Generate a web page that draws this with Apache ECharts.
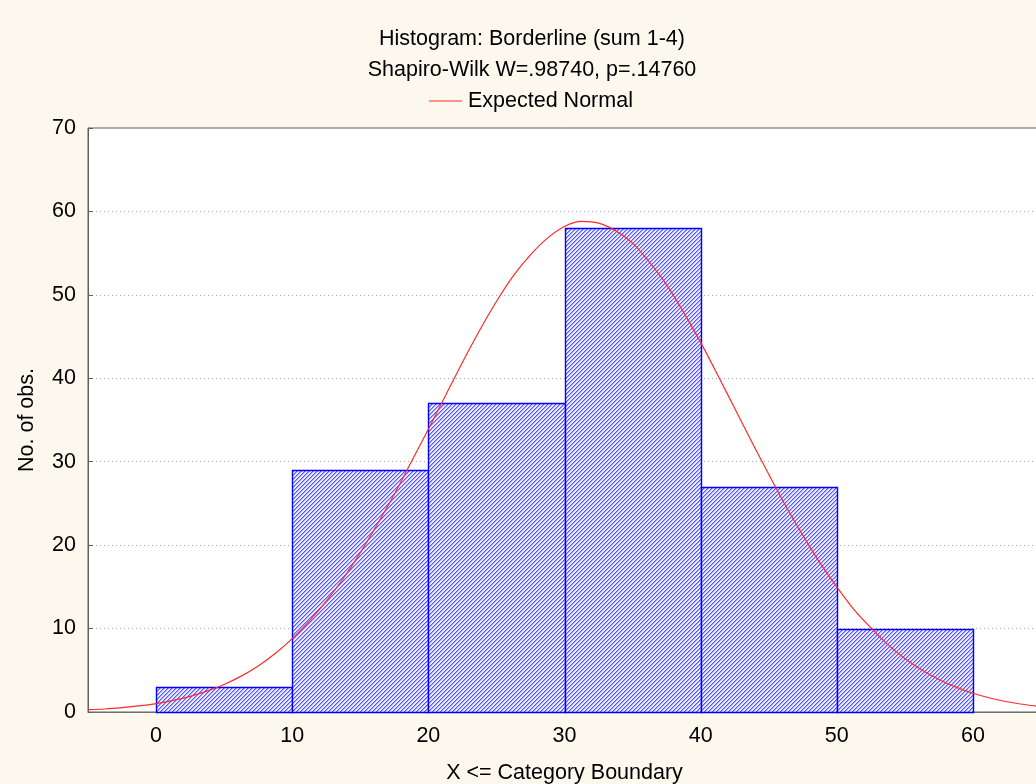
<!DOCTYPE html>
<html>
<head>
<meta charset="utf-8">
<title>Histogram: Borderline (sum 1-4)</title>
<script src="https://cdn.jsdelivr.net/npm/echarts@6/dist/echarts.min.js"></script>
<style>
  html, body { margin: 0; padding: 0; background: #fdf8ee; }
  #chart { width: 1036px; height: 784px; }
</style>
</head>
<body>
<div id="chart"></div>
<script>
// Histogram bins (upper boundary category) and observed counts
const binLow  = [0, 10, 20, 30, 40, 50];
const binHigh = [10, 20, 30, 40, 50, 60];
const counts  = [3, 29, 37, 58, 27, 10];

// Expected normal curve, sampled along X
const curveX = [-5, -3.75, -2.5, -1.25, 0, 1.25, 2.5, 3.75, 5, 6.25, 7.5, 8.75, 10, 11.25, 12.5, 13.75,
                15, 16.25, 17.5, 18.75, 20, 21.25, 22.5, 23.75, 25, 26.25, 27.5, 28.75, 30, 31.25,
                32.5, 33.75, 35, 36.25, 37.5, 38.75, 40, 41.25, 42.5, 43.75, 45, 46.25, 47.5, 48.75,
                50, 51.25, 52.5, 53.75, 55, 56.25, 57.5, 58.75, 60, 61.25, 62.5, 63.75, 65];
const curveY = [0.28, 0.36, 0.52, 0.73, 1.01, 1.39, 1.88, 2.5, 3.3, 4.3, 5.52, 7.02, 8.8, 10.9, 13.3, 16.0,
                19.1, 22.5, 26.1, 30.0, 33.9, 37.9, 41.9, 45.7, 49.2, 52.3, 54.8, 56.8, 58.2, 58.8,
                58.6, 57.7, 56.2, 53.9, 51.2, 47.9, 44.3, 40.4, 36.4, 32.4, 28.5, 24.7, 21.2, 17.9,
                15.0, 12.3, 10.1, 8.08, 6.42, 5.03, 3.9, 2.98, 2.25, 1.68, 1.23, 0.9, 0.64];

const yTicks = [0, 10, 20, 30, 40, 50, 60, 70];

// Diagonal hatch tile for the bars: blue strokes on a pale lavender ground
function makeHatch() {
  const c = document.createElement('canvas');
  c.width = 4; c.height = 4;
  const g = c.getContext('2d');
  g.fillStyle = '#ececff';
  g.fillRect(0, 0, 4, 4);
  for (let i = 0; i < 4; i++) {
    g.fillStyle = '#5a5aff';
    g.fillRect(3 - i, i, 1, 1);
    g.fillStyle = '#a2a2ff';
    g.fillRect((4 - i) % 4, i, 1, 1);
  }
  return c;
}
const hatch = { image: makeHatch(), repeat: 'repeat' };

const FONT = "'Liberation Sans', Arial, sans-serif";
const FS = 21.5;
const chart = echarts.init(document.getElementById('chart'));

chart.setOption({
  backgroundColor: '#fdf8ee',
  animation: false,
  title: [
    { text: 'Histogram: Borderline (sum 1-4)', left: 527, top: 23, textAlign: 'center',
      textStyle: { fontFamily: FONT, fontSize: FS, fontWeight: 'normal', color: '#000' } },
    { text: 'Shapiro-Wilk W=.98740, p=.14760', left: 527, top: 54, textAlign: 'center',
      textStyle: { fontFamily: FONT, fontSize: FS, fontWeight: 'normal', color: '#000' } }
  ],
  legend: {
    data: [{ name: 'Expected Normal', icon: 'rect' }],
    left: 424, top: 85,
    itemWidth: 33, itemHeight: 1, itemGap: 10,
    textStyle: { fontFamily: FONT, fontSize: FS, color: '#000', padding: [0, 0, 0, 1] }
  },
  grid: {
    left: 88, right: -5, top: 128, bottom: 72,
    outerBoundsMode: 'none',
    show: true, backgroundColor: '#ffffff',
    borderColor: '#606060', borderWidth: 1
  },
  xAxis: {
    type: 'value', min: -5, max: 65, splitNumber: 7,
    name: 'X <= Category Boundary', nameLocation: 'middle', nameGap: 50,
    nameTextStyle: { fontFamily: FONT, fontSize: FS, color: '#000' },
    axisLine: { show: true, onZero: false, lineStyle: { color: '#707070' } },
    axisTick: { show: false },
    splitLine: { show: false },
    axisLabel: { showMinLabel: false, showMaxLabel: false, margin: 13,
      fontFamily: FONT, fontSize: FS, color: '#000' }
  },
  yAxis: {
    type: 'value', min: yTicks[0], max: yTicks[yTicks.length - 1], interval: 10,
    name: 'No. of obs.', nameLocation: 'middle', nameGap: 50,
    nameTextStyle: { fontFamily: FONT, fontSize: FS, color: '#000' },
    axisLine: { show: true, onZero: false, lineStyle: { color: '#606060' } },
    axisTick: { show: true, inside: true, length: 5, lineStyle: { color: '#606060' } },
    splitLine: { show: true, lineStyle: { color: '#a8a8a8', type: [1, 3] } },
    axisLabel: { margin: 12, fontFamily: FONT, fontSize: FS, color: '#000' }
  },
  series: [
    {
      name: 'Observed',
      type: 'custom',
      encode: { x: [0, 1], y: 2 },
      data: binLow.map((lo, i) => [lo, binHigh[i], counts[i]]),
      renderItem: function (params, api) {
        const p0 = api.coord([api.value(0), 0]);
        const p1 = api.coord([api.value(1), api.value(2)]);
        const x0 = Math.round(p0[0]) + 0.5, x1 = Math.round(p1[0]) + 0.5;
        const yb = Math.round(p0[1]) + 0.5, yt = Math.round(p1[1]) + 0.5;
        return {
          type: 'rect',
          shape: { x: x0, y: yt, width: x1 - x0, height: yb - yt },
          style: { fill: hatch, stroke: '#0000ff', lineWidth: 1.4 }
        };
      },
      z: 2
    },
    {
      name: 'Expected Normal',
      type: 'line',
      data: curveX.map((x, i) => [x, curveY[i]]),
      smooth: 0.3,
      symbol: 'none',
      lineStyle: { color: '#ff2a2a', width: 1.2 },
      itemStyle: { color: '#ff2a2a' },
      z: 3
    }
  ]
});
</script>
</body>
</html>
